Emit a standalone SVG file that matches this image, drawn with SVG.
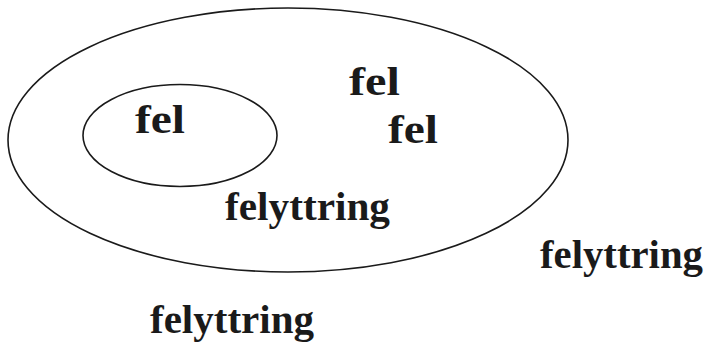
<svg xmlns="http://www.w3.org/2000/svg" width="707" height="349" viewBox="0 0 707 349">
  <style>
    .set { fill: none; stroke: #1a1a1a; stroke-width: 1.6; }
    .lbl { font-family: "Liberation Serif", "DejaVu Serif", serif; font-weight: bold; font-size: 39px; fill: #1a1a1a; }
  </style>
  <rect width="707" height="349" fill="#ffffff"/>
  <g id="outer-set">
    <ellipse class="set" cx="288" cy="140" rx="280" ry="132"/>
  </g>
  <g id="inner-set">
    <ellipse class="set" cx="180" cy="135.5" rx="97" ry="51"/>
  </g>
  <g id="labels">
    <text class="lbl" x="135" y="133" textLength="50" lengthAdjust="spacingAndGlyphs">fel</text>
    <text class="lbl" x="349" y="95" textLength="51" lengthAdjust="spacingAndGlyphs">fel</text>
    <text class="lbl" x="388" y="143" textLength="50" lengthAdjust="spacingAndGlyphs">fel</text>
    <text class="lbl" x="225" y="220" textLength="165" lengthAdjust="spacingAndGlyphs">felyttring</text>
    <text class="lbl" x="540" y="268" textLength="163" lengthAdjust="spacingAndGlyphs">felyttring</text>
    <text class="lbl" x="150" y="333" textLength="164" lengthAdjust="spacingAndGlyphs">felyttring</text>
  </g>
</svg>
